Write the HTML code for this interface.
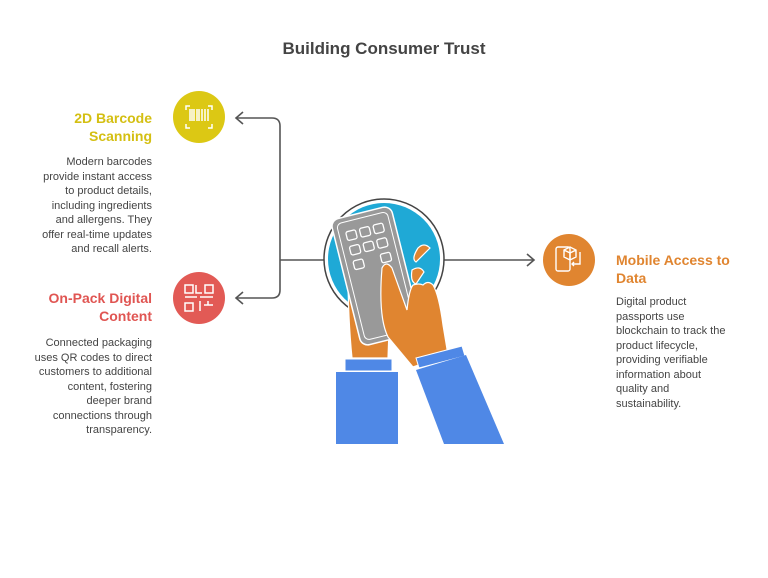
<!DOCTYPE html>
<html><head><style>
body{margin:0;width:768px;height:578px;background:#fff;font-family:"Liberation Sans",sans-serif;position:relative;overflow:hidden}
h1{position:absolute;top:39px;left:0;width:768px;text-align:center;font-size:17px;margin:0;color:#444;font-weight:bold}
.h{position:absolute;font-weight:bold;font-size:14px;line-height:18px}
.b{position:absolute;font-size:11px;line-height:14.5px;color:#444;white-space:nowrap}
</style></head><body>
<h1>Building Consumer Trust</h1>
<div class="h" style="right:616px;top:109px;text-align:right;color:#d4bf12">2D Barcode<br>Scanning</div>
<div class="b" style="right:616px;top:155px;text-align:right">Modern barcodes<br>provide instant access<br>to product details,<br>including ingredients<br>and allergens. They<br>offer real-time updates<br>and recall alerts.</div>
<div class="h" style="right:616px;top:289px;text-align:right;color:#e05552">On-Pack Digital<br>Content</div>
<div class="b" style="right:616px;top:336px;text-align:right">Connected packaging<br>uses QR codes to direct<br>customers to additional<br>content, fostering<br>deeper brand<br>connections through<br>transparency.</div>
<div class="h" style="left:616px;top:251px;color:#e08530">Mobile Access to<br>Data</div>
<div class="b" style="left:616px;top:295px">Digital product<br>passports use<br>blockchain to track the<br>product lifecycle,<br>providing verifiable<br>information about<br>quality and<br>sustainability.</div>
<svg width="768" height="578" style="position:absolute;left:0;top:0">
<g fill="none" stroke="#555" stroke-width="1.6">
<path d="M236 118 H272 Q280 118 280 126 V290 Q280 298 272 298 H236"/>
<path d="M243 112 L236 118 L243 124 M243 292 L236 298 L243 304"/>
<path d="M280 260 H325 M440 260 H533 M527 254 L534 260 L527 266"/>
</g>
<circle cx="199" cy="117" r="26" fill="#dcc814"/>
<g stroke="#fff" stroke-width="1.5" fill="none"><path d="M186 110v-4h4M212 110v-4h-4M186 124v4h4M212 124v4h-4"/>
<path d="M190 109v12M192 109v12M194 109v12M197 109v12M199 109v12M202 109v12M205 109v12M208 109v12"/></g>
<circle cx="199" cy="298" r="26" fill="#e25a55"/>
<g stroke="#fff" stroke-width="1.5" fill="none"><rect x="185" y="285" width="8" height="8"/><rect x="205" y="285" width="8" height="8"/><rect x="185" y="303" width="8" height="8"/><path d="M196 285v8h6M185 297h12M200 297h13M200 301v10M204 305h9M208 301v4"/></g>
<circle cx="569" cy="260" r="26" fill="#e08530"/>
<g stroke="#fff" stroke-width="1.4" fill="none"><rect x="556" y="247" width="14" height="24" rx="2"/><path d="M564 250l6-3 6 3v7l-6 3-6-3z M564 250l6 3 6-3 M570 253v7 M580 252v12l-8 0 M574 262l-2 2 2 2"/></g>
<circle cx="384" cy="259" r="60" fill="#fff" stroke="#444" stroke-width="1.5"/>
<circle cx="384" cy="259" r="56" fill="#1fa9d6"/>
<path d="M348 272 q4-8 8 0 l8 20 l26 10 l-2 56 h-36 q-4-40-4-86z" fill="#e08530" stroke="#fff" stroke-width="1.2"/>
<g transform="rotate(-14 380 275)"><rect x="345" y="210" width="62" height="130" rx="8" fill="#999" stroke="#fff" stroke-width="1.5"/>
<rect x="350" y="215" width="52" height="120" rx="5" fill="none" stroke="#fff" stroke-width="1"/>
<g fill="none" stroke="#fff" stroke-width="1.3">
<rect x="357" y="225" width="10" height="9" rx="2"/><rect x="371" y="225" width="10" height="9" rx="2"/><rect x="385" y="225" width="10" height="9" rx="2"/>
<rect x="357" y="240" width="10" height="9" rx="2"/><rect x="371" y="240" width="10" height="9" rx="2"/><rect x="385" y="240" width="10" height="9" rx="2"/>
<rect x="357" y="255" width="10" height="9" rx="2"/><rect x="385" y="255" width="10" height="9" rx="2"/></g></g>
<path d="M382 268 q4-8 10 0 l15 42 q2-20 6-25 q6-2 10 0 q5-5 10 0 q6 10 10 40 l5 30 l-35 12 l-25-30 q-10-20-6-69z" fill="#e08530" stroke="#fff" stroke-width="1.2"/>
<path d="M418 248 q6-6 12 0 l-14 14 q-5-3 2-14z M412 270 q8-5 12 2 l-8 12 q-6-2-4-14z" fill="#e08530" stroke="#fff" stroke-width="1.2"/>
<rect x="345" y="359" width="47" height="12" fill="#4f88e6" stroke="#fff" stroke-width="1"/>
<rect x="336" y="372" width="62" height="72" fill="#4f88e6"/>
<path d="M416 358 l46-12 l3 10 l-46 12z" fill="#4f88e6" stroke="#fff" stroke-width="1"/>
<path d="M416 370 l50-15 l38 89 h-60z" fill="#4f88e6"/>
</svg>
</body></html>
